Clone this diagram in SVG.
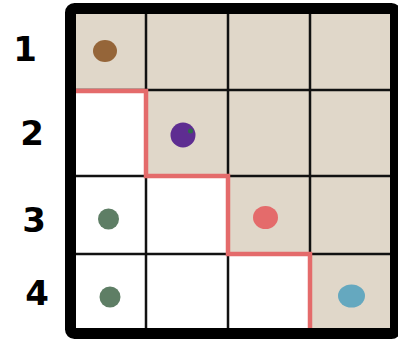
<svg xmlns="http://www.w3.org/2000/svg" width="398" height="339" viewBox="0 0 398 339">
<style>
.lbl{font-family:"DejaVu Sans",sans-serif;font-size:34px;font-weight:bold;fill:#000;text-anchor:middle}
.grid{stroke:#111;stroke-width:2.5;fill:none}
.stair{stroke:#e46b6b;stroke-width:4.5;fill:none;stroke-linejoin:miter}
</style>
<rect x="0" y="0" width="398" height="339" fill="#fff"/>
<g id="board">
<polygon points="76,14 390,14 390,328 310,328 310,254 228,254 228,176 146,176 146,91 76,91" fill="#e0d7c9"/>
<g class="grid">
<line x1="146" y1="14" x2="146" y2="328"/>
<line x1="228" y1="14" x2="228" y2="328"/>
<line x1="310" y1="14" x2="310" y2="328"/>
<line x1="76" y1="90" x2="390" y2="90"/>
<line x1="76" y1="176" x2="390" y2="176"/>
<line x1="76" y1="254" x2="390" y2="254"/>
</g>
<rect x="70.5" y="8.5" width="325" height="325" rx="4" fill="none" stroke="#000" stroke-width="11"/>
</g>
<g id="connectors">
<polyline class="stair" points="76,91 146,91 146,176 228,176 228,254 310,254 310,328"/>
</g>
<g id="dot-1-1"><ellipse cx="105" cy="51" rx="12" ry="11" fill="#956539"/></g>
<g id="dot-2-2"><circle cx="183" cy="135" r="12.5" fill="#5e2d91"/><circle cx="190.5" cy="131" r="2.5" fill="#2e6b4a"/></g>
<g id="dot-3-1"><circle cx="108.5" cy="219" r="10.5" fill="#5e7e65"/></g>
<g id="dot-4-1"><circle cx="110" cy="297" r="10.5" fill="#5e7e65"/></g>
<g id="dot-3-3"><ellipse cx="265.5" cy="217.5" rx="12.5" ry="11.5" fill="#e46b6b"/></g>
<g id="dot-4-4"><ellipse cx="351.5" cy="296" rx="13.5" ry="11.5" fill="#65a8bf"/></g>
<g id="labels">
<text class="lbl" x="25" y="61">1</text>
<text class="lbl" x="32" y="145">2</text>
<text class="lbl" x="34" y="232">3</text>
<text class="lbl" x="37" y="305">4</text>
</g>
</svg>
